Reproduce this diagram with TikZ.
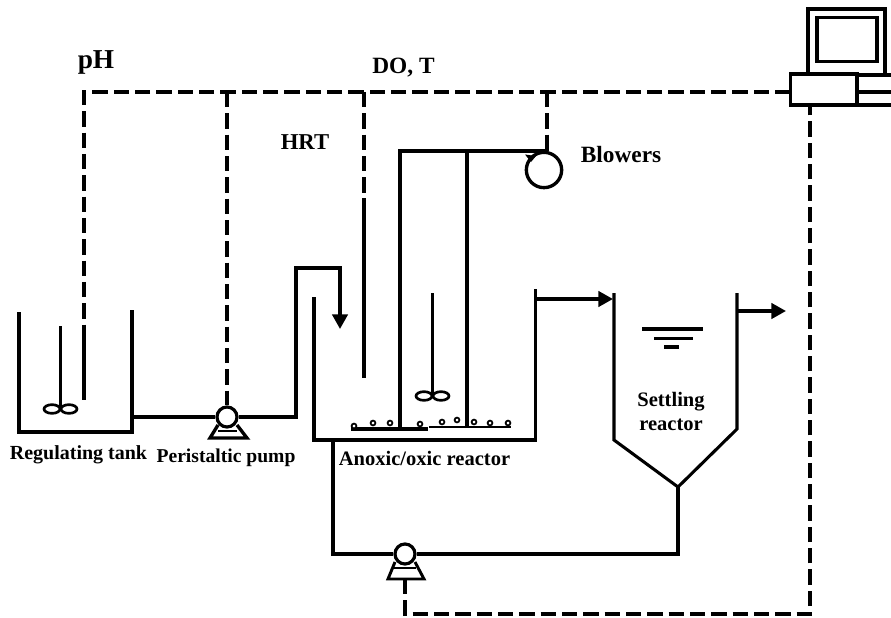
\documentclass[tikz,border=0pt]{standalone}
\usepackage{fontspec}
\setmainfont{Liberation Serif}
\usetikzlibrary{arrows.meta,shapes.geometric}
\tikzset{
  pipe/.style={line width=2.5pt,line join=miter},
  thinpipe/.style={line width=2.3pt},
  signal/.style={line width=2.3pt,dash pattern=on 11.5pt off 4.5pt},
  flow/.style={pipe,-{Triangle[length=11pt,width=11.5pt]}},
  pumphead/.style={circle,draw,line width=2.4pt,fill=white,minimum size=15pt,inner sep=0pt},
  tag/.style={font=\fontsize{#1}{#1}\selectfont\bfseries,inner sep=0pt,align=center},
  tag/.default=15,
  blade/.style={ellipse,draw,line width=2pt,minimum width=12pt,minimum height=6.5pt,inner sep=0pt},
  bubble/.style={circle,draw,line width=1.3pt,fill=white,minimum size=3.6pt,inner sep=0pt},
  unit/.style={draw,line width=2.5pt,inner sep=0pt,outer sep=0pt}
}
\begin{document}
\begin{tikzpicture}[x=0.75pt,y=-0.75pt]
  \useasboundingbox (0,0) rectangle (891,617);
  % pumps and blower
  \node[pumphead] (feedpump) at (227,417) {};
  \node[pumphead] (returnpump) at (405,554) {};
  \node[circle,draw,line width=2.5pt,minimum size=26.5pt,inner sep=0pt] (blower) at (544,170) {};
  % control computer
  \node[unit,minimum width=50pt,minimum height=23pt] (controller) at (823.5,89.5) {};
  \draw[line width=2.5pt] (808,74) -- (808,9) -- (885,9) -- (885,74);
  \node[unit,minimum width=45pt,minimum height=33pt] (screen) at (847,39.5) {};
  \coordinate (rackA) at (891,75);
  \coordinate (rackB) at (891,92);
  \coordinate (rackC) at (891,105);
  \draw[line width=2.5pt] (controller.north east |- rackA) -- (rackA);
  \draw[line width=2.5pt] (controller.north east |- rackB) -- (rackB);
  \draw[line width=2.5pt] (controller.south east |- rackC) -- (rackC);
  % regulating tank
  \coordinate (tankL) at (19,312);
  \coordinate (tankBL) at (19,432);
  \coordinate (tankBR) at (132,432);
  \coordinate (tankR) at (132,310);
  \coordinate (tankOut) at (132,417);
  \draw[pipe] (tankL) -- (tankBL) -- (tankBR) -- (tankR);
  \node[blade] (bladeAl) at (52,409) {};
  \node[blade] (bladeAr) at (69,409) {};
  \coordinate (stirA) at (60.5,326);
  \draw[thinpipe] (stirA) -- (60.5,409);
  % feed line
  \coordinate (feedUp) at (296,417);
  \coordinate (feedTop) at (296,268);
  \coordinate (feedDrop) at (340,268);
  \coordinate (feedEnd) at (340,329);
  \draw[pipe] (tankOut) -- (feedpump);
  \draw[flow] (feedpump) -- (feedUp) -- (feedTop) -- (feedDrop) -- (feedEnd);
  \draw[pipe] (218,425) -- (210,438) -- (247,438) -- (237,425);
  \draw[line width=1.6pt] (218,431) -- (237,431);
  % anoxic/oxic reactor
  \coordinate (reacL) at (314,297);
  \coordinate (reacBL) at (314,440);
  \coordinate (reacBR) at (535.5,440);
  \coordinate (reacR) at (535.5,289);
  \coordinate (reacOut) at (535.5,299);
  \coordinate (setIn) at (613,299);
  \draw[pipe] (reacL) -- (reacBL) -- (reacBR) -- (reacR);
  \draw[flow] (reacOut) -- (setIn);
  \coordinate (stirB) at (432.5,293);
  \draw[thinpipe] (stirB) -- (432.5,396);
  \node[blade] (bladeBl) at (424,396) {};
  \node[blade] (bladeBr) at (441,396) {};
  % aeration
  \coordinate (airL) at (400,428);
  \coordinate (airR) at (467,428);
  \coordinate (airTopL) at (400,151);
  \coordinate (airTopR) at (467,151);
  \coordinate (airEnd) at (545,151);
  \draw[pipe] (airL) -- (airTopL) -- (airEnd);
  \draw[pipe] (airR) -- (airTopR);
  \fill (525,154.5) -- (536,156) -- (531,162) -- cycle;
  \draw[line width=2.4pt] (351,429) -- (428,429);
  \draw[line width=2pt] (429,427) -- (511,427);
  \foreach \x/\y in {354/426,373/423,390/423,420/424,442/422,457/420,474/422,490/423,508/423}
    \node[bubble] at (\x,\y) {};
  % settling reactor
  \coordinate (setL) at (614,293);
  \coordinate (setBL) at (614,440);
  \coordinate (setApex) at (678,487);
  \coordinate (setBR) at (737,429);
  \coordinate (setR) at (737,293);
  \coordinate (setOutA) at (737,311);
  \coordinate (setOutB) at (786,311);
  \draw[thinpipe] (setL) -- (setBL) -- (setApex) -- (setBR) -- (setR);
  \draw[flow] (setOutA) -- (setOutB);
  \foreach \y/\a/\b/\w in {329/642/703/2.4,338.5/654/693/2.4,347/664/679/3}
    \draw[line width=\w pt] (\a,\y) -- (\b,\y);
  % sludge return
  \coordinate (retRight) at (678,554);
  \coordinate (retLeft) at (333,554);
  \coordinate (retUp) at (333,440);
  \draw[pipe] (setApex) -- (retRight) -- (returnpump);
  \draw[pipe] (returnpump) -- (retLeft) -- (retUp);
  \draw[pipe,line width=2.2pt] (395,562) -- (388,579) -- (424,579) -- (415,562);
  \draw[line width=1.4pt] (394,568) -- (416,568);
  % signal lines
  \coordinate (busL) at (84,92);
  \coordinate (busPump) at (227,92);
  \coordinate (busHRT) at (364,92);
  \coordinate (busAir) at (547,92);
  \coordinate (phEnd) at (84,340);
  \coordinate (hrtEnd) at (364,198);
  \coordinate (airSig) at (547,142);
  \coordinate (retPump) at (405,579);
  \coordinate (retCorner) at (405,614);
  \coordinate (busCorner) at (810,614);
  \draw[signal] (controller.west |- busL) -- (busL) -- (phEnd);
  \draw[thinpipe] (phEnd) -- (84,400);
  \draw[signal] (busPump) -- (feedpump);
  \draw[signal] (busHRT) -- (hrtEnd);
  \draw[thinpipe] (hrtEnd) -- (364,378);
  \draw[signal] (busAir) -- (airSig);
  \draw[thinpipe] (airSig) -- (547,151);
  \draw[signal] (retPump) -- (retCorner) -- (busCorner) -- (controller.south -| busCorner);
  % labels
  \node[tag=20.5] (phlabel) at (96,62) {pH};
  \node[tag=17.5] (dolabel) at (403.5,68) {DO, T};
  \node[tag=17] (hrtlabel) at (305,142) {HRT};
  \node[tag=17.5] (blowerlabel) at (621,155) {Blowers};
  \node[tag] (tanklabel) at (78.5,455) {Regulating tank};
  \node[tag=14.7] (pumplabel) at (226,458) {Peristaltic pump};
  \node[tag=15.4] (reactorlabel) at (424.5,458) {Anoxic/oxic reactor};
  \node[tag=15.4] (settlinglabel) at (671,411.5) {Settling\\[3pt]reactor};
\end{tikzpicture}
\end{document}
